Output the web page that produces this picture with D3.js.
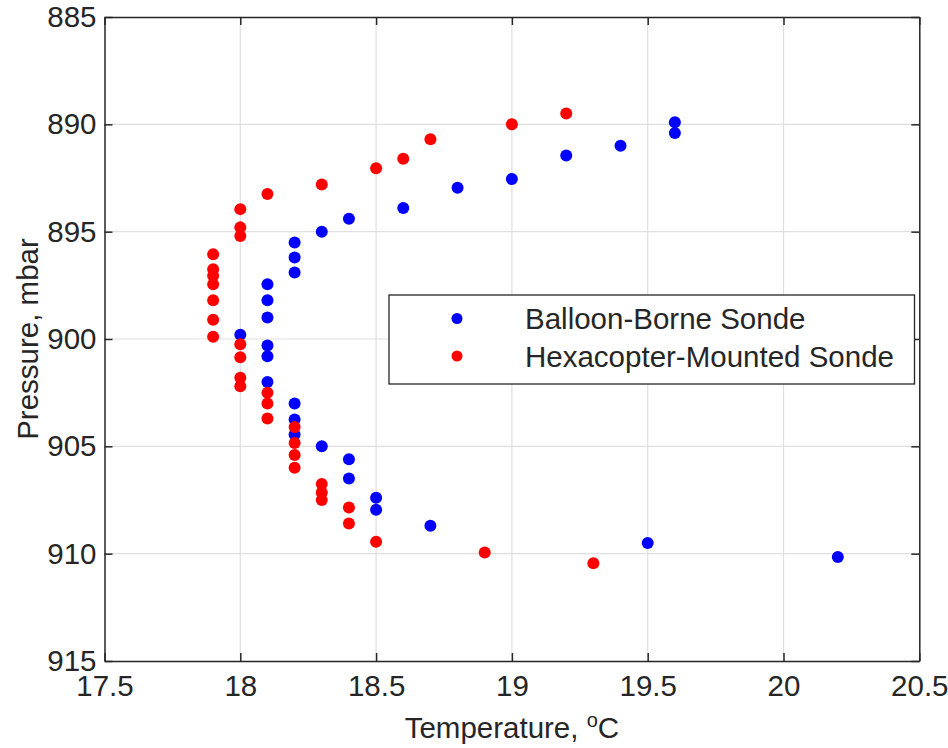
<!DOCTYPE html>
<html>
<head>
<meta charset="utf-8">
<script src="https://cdn.jsdelivr.net/npm/d3@7"></script>
<style>
  body { margin: 0; background: #fff; }
  svg text { font-family: "Liberation Sans", Arial, Helvetica, sans-serif; fill: #262626; }
</style>
</head>
<body>
<div id="chart"></div>
<script>
// balloon-borne sonde readings
let balloonTemp  = [19.6, 19.6, 19.4, 19.2, 19.0, 18.8, 18.6, 18.4, 18.3, 18.2, 18.2, 18.2, 18.1, 18.1, 18.1, 18.0,
                    18.1, 18.1, 18.1, 18.2, 18.2, 18.2, 18.3, 18.4, 18.4, 18.5, 18.5, 18.7, 19.5, 20.2];
let balloonPress = [889.9, 890.4, 891.0, 891.45, 892.55, 892.95, 893.9, 894.4, 895.0, 895.5, 896.2, 896.9, 897.45, 898.2, 899.0, 899.8,
                    900.3, 900.8, 902.0, 903.0, 903.75, 904.45, 905.0, 905.6, 906.5, 907.4, 907.95, 908.7, 909.5, 910.15];

// hexacopter-mounted sonde readings
let hexaTemp  = [19.2, 19.0, 18.7, 18.6, 18.5, 18.3, 18.1, 18.0, 18.0, 18.0, 17.9, 17.9, 17.9, 17.9, 17.9, 17.9, 17.9,
                 18.0, 18.0, 18.0, 18.0, 18.1, 18.1, 18.1, 18.2, 18.2, 18.2, 18.2, 18.3, 18.3, 18.3, 18.4, 18.4, 18.5, 18.9, 19.3];
let hexaPress = [889.5, 890.0, 890.7, 891.6, 892.05, 892.8, 893.25, 893.95, 894.8, 895.2, 896.05, 896.75, 897.05, 897.45, 898.2, 899.1, 899.9,
                 900.25, 900.85, 901.8, 902.2, 902.5, 903.0, 903.7, 904.1, 904.85, 905.4, 906.0, 906.75, 907.15, 907.5, 907.85, 908.6, 909.45, 909.95, 910.45];

let xTicks = [17.5, 18, 18.5, 19, 19.5, 20, 20.5];
let yTicks = [885, 890, 895, 900, 905, 910, 915];
let seriesNames = ["Balloon-Borne Sonde", "Hexacopter-Mounted Sonde"];
let seriesColors = ["#0000ff", "#ff0000"];

// set the dimensions and margins of the graph
let margin = {top: 17, right: 28.7, bottom: 87, left: 104.5},
    width = 948 - margin.left - margin.right,
    height = 748 - margin.top - margin.bottom;
let fontSize = "29.5px";

let svg = d3.select("#chart")
    .append("svg")
    .attr("width", 948)
    .attr("height", 748)
    .append("g")
    .attr("transform", "translate(" + margin.left + "," + margin.top + ")");

let x = d3.scaleLinear().domain([17.5, 20.5]).range([0, width]);
let y = d3.scaleLinear().domain([885, 915]).range([0, height]);

// grid
svg.append("g")
    .selectAll("line")
    .data(xTicks.slice(1, -1))
    .enter().append("line")
    .attr("x1", d => x(d)).attr("x2", d => x(d))
    .attr("y1", 0).attr("y2", height)
    .attr("stroke", "#dfdfdf").attr("stroke-width", 1.2);
svg.append("g")
    .selectAll("line")
    .data(yTicks.slice(1, -1))
    .enter().append("line")
    .attr("x1", 0).attr("x2", width)
    .attr("y1", d => y(d)).attr("y2", d => y(d))
    .attr("stroke", "#dfdfdf").attr("stroke-width", 1.2);

// axes (ticks inside, mirrored on top/right)
let tickLen = 8;
let axStyle = g => {
    g.select(".domain").attr("stroke", "#262626").attr("stroke-width", 1.5);
    g.selectAll(".tick line").attr("stroke", "#262626").attr("stroke-width", 1.5);
    g.selectAll(".tick text").style("font-size", fontSize).attr("fill", "#262626");
};

svg.append("g")
    .attr("transform", "translate(0," + height + ")")
    .call(d3.axisBottom(x).tickValues(xTicks).tickSizeInner(-tickLen).tickSizeOuter(0).tickPadding(14).tickFormat(d3.format("")))
    .call(axStyle);
svg.append("g")
    .call(d3.axisTop(x).tickValues(xTicks).tickSizeInner(-tickLen).tickSizeOuter(0).tickFormat(""))
    .call(axStyle);
svg.append("g")
    .call(d3.axisLeft(y).tickValues(yTicks).tickSizeInner(-tickLen).tickSizeOuter(0).tickPadding(8).tickFormat(d3.format("")))
    .call(axStyle);
svg.append("g")
    .attr("transform", "translate(" + width + ",0)")
    .call(d3.axisRight(y).tickValues(yTicks).tickSizeInner(-tickLen).tickSizeOuter(0).tickFormat(""))
    .call(axStyle);

// points
let series = [
    {temp: balloonTemp, press: balloonPress},
    {temp: hexaTemp, press: hexaPress}
];
series.forEach(function(s, i) {
    svg.append("g")
        .selectAll("circle")
        .data(s.temp.map((t, k) => ({t: t, p: s.press[k]})))
        .enter().append("circle")
        .attr("cx", d => x(d.t))
        .attr("cy", d => y(d.p))
        .attr("r", 6)
        .attr("fill", seriesColors[i]);
});

// axis titles
let xt = svg.append("text")
    .attr("x", width / 2)
    .attr("y", height + 77)
    .attr("text-anchor", "middle")
    .style("font-size", fontSize);
xt.append("tspan").text("Temperature, ");
xt.append("tspan").attr("dy", -11).style("font-size", "20px").text("o");
xt.append("tspan").attr("dy", 11).text("C");

svg.append("text")
    .attr("transform", "translate(" + (38 - margin.left) + "," + (height / 2) + ") rotate(-90)")
    .attr("text-anchor", "middle")
    .style("font-size", fontSize)
    .text("Pressure, mbar");

// legend
let legend = svg.append("g")
    .attr("transform", "translate(" + (389 - margin.left) + "," + (295 - margin.top) + ")");
legend.append("rect")
    .attr("width", 525.5).attr("height", 89)
    .attr("fill", "#fff").attr("stroke", "#262626").attr("stroke-width", 1.3);
seriesNames.forEach(function(name, i) {
    legend.append("circle")
        .attr("cx", 68).attr("cy", 23.5 + i * 37.5)
        .attr("r", 5.5).attr("fill", seriesColors[i]);
    legend.append("text")
        .attr("x", 136).attr("y", 34 + i * 37.5)
        .style("font-size", fontSize)
        .text(name);
});
</script>
</body>
</html>
